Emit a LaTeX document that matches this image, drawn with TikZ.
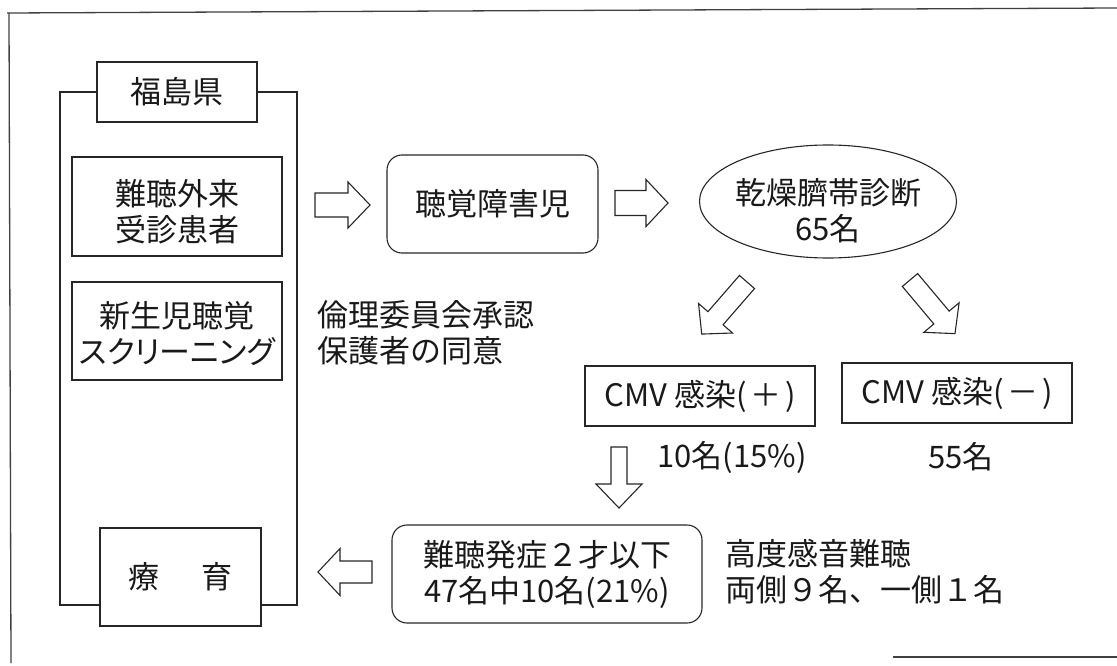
\documentclass[tikz,border=0pt]{standalone}
\usepackage{fontspec}
\setmainfont{Noto Sans CJK JP}
\newfontfamily\propfont[RawFeature=+palt]{Noto Sans CJK JP}
\usetikzlibrary{shapes.geometric}
\tikzset{
  ln/.style={draw=black!85, line width=1.1pt},
  txt/.style={font=\fontsize{31}{36}\selectfont, inner sep=0pt, align=center, text=black!90},
  sqbox/.style={ln, txt, rectangle},
  rbox/.style={ln, txt, rectangle, rounded corners=15pt},
  ovalbox/.style={ln, ellipse, inner sep=0pt},
  barrow/.style={draw=black!85, line width=1.1pt, fill=white, line join=miter},
  frameline/.style={draw=black!75, line width=1.3pt}
}
% tail x, tail y, angle, length, shaft width, head width, head length
\newcommand{\blockarr}[7]{%
  \draw[barrow, shift={(#1,#2)}, rotate=#3]
    (0,{-#5/2}) -- ({#4-#7},{-#5/2}) -- ({#4-#7},{-#6/2}) -- (#4,0)
    -- ({#4-#7},{#6/2}) -- ({#4-#7},{#5/2}) -- (0,{#5/2}) -- cycle;}
\begin{document}
\begin{tikzpicture}[x=1pt,y=-1pt]
\useasboundingbox (0,0) rectangle (1117,666);
% outer frame remnants
\draw[frameline] (7,13) -- (1117,8);
\draw[frameline] (9,13) -- (11,663);
\draw[frameline] (893,657) -- (1117,657);

% left column
\node[sqbox, minimum width=160pt, minimum height=60pt] (fuku) at (177,92) {福島県};
\node[sqbox, minimum width=210pt, minimum height=99pt] (nan) at (177,206.5) {};
\node[txt] (nantxt) at (177,212) {難聴外来\\受診患者};
\node[sqbox, minimum width=210pt, minimum height=98pt] (shin) at (177,331) {};
\node[txt] (shintxt) at (177,334) {新生児聴覚\\{\propfont スクリーニング}};
\node[sqbox, minimum width=161pt, minimum height=98pt] (ryo) at (180.5,577) {療\hspace{1.35em}育};

\coordinate (bl) at (60,605);
\coordinate (br) at (297,605);
\draw[ln] (fuku.west) -- (60,92) -- (bl) -- (bl -| ryo.west);
\draw[ln] (fuku.east) -- (297,92) -- (br) -- (br -| ryo.east);

% flow
\node[rbox, minimum width=211pt, minimum height=98pt] (chou) at (492.5,204) {聴覚障害児};
\node[ovalbox, minimum width=257pt, minimum height=113pt] (kan) at (828,201.5) {};
\node[txt] (kantxt) at (828,211) {乾燥臍帯診断\\65名};
\node[sqbox, minimum width=230pt, minimum height=60pt] (cmvp) at (700,396) {CMV 感染(\hspace{0.12em}＋\hspace{0.12em})};
\node[sqbox, minimum width=230pt, minimum height=60pt] (cmvm) at (957,393) {CMV 感染(\hspace{0.12em}－\hspace{0.12em})};
\node[txt] (np) at (732,457) {10名(15\%)};
\node[txt] (nm) at (961,457) {55名};
\node[rbox, minimum width=310pt, minimum height=98pt] (hass) at (547,574) {難聴発症２才以下\\47名中10名(21\%)};
\node[txt, anchor=west, align=left] (kodo) at (725,572) {高度感音難聴\\両側９名、一側１名};
\node[txt, anchor=west, align=left] (rinri) at (317,333) {倫理委員会承認\\保護者の同意};

% block arrows
\blockarr{315}{205}{0}{55}{24}{46}{22}
\blockarr{615}{203}{0}{53}{25}{47}{22}
\blockarr{372}{572}{180}{54}{22}{47}{22}
\blockarr{619}{447}{270}{61}{16}{46}{24}
\blockarr{747}{282}{229}{69}{20}{45}{21}
\blockarr{910}{280}{310}{70}{20}{46}{21}
\end{tikzpicture}
\end{document}
